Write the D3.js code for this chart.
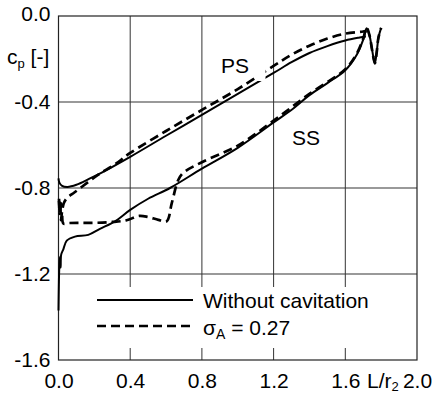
<!DOCTYPE html>
<html><head><meta charset="utf-8">
<script src="https://cdn.jsdelivr.net/npm/d3@7"></script>
<style>body{margin:0;background:#fff}svg{display:block}text{font-family:"Liberation Sans",Arial,sans-serif;fill:#000}</style>
</head><body>
<script>
const xTicks=[0.0,0.4,0.8,1.2,1.6,2.0];
const xTickLabels=["0.0","0.4","0.8","1.2","1.6","2.0"];
const yTicks=[0.0,-0.4,-0.8,-1.2,-1.6];
const yTickLabels=["0.0","-0.4","-0.8","-1.2","-1.6"];
const seriesNames=["Without cavitation","σA = 0.27"];
// Without cavitation - pressure side
const psSolid=[[0,-0.755],[0.005,-0.775],[0.02,-0.79],[0.05,-0.795],[0.1,-0.785],[0.17,-0.758],[0.26,-0.72],[0.4,-0.655],[0.6,-0.557],[0.8,-0.46],[1.0,-0.362],[1.2,-0.265],[1.3,-0.215],[1.4,-0.172],[1.5,-0.14],[1.6,-0.114],[1.68,-0.1],[1.715,-0.095]];
// Without cavitation - suction side
const ssSolid=[[0,-1.37],[0.002,-1.25],[0.004,-1.18],[0.008,-1.12],[0.012,-1.17],[0.015,-1.11],[0.027,-1.085],[0.046,-1.045],[0.092,-1.026],[0.166,-1.018],[0.231,-0.99],[0.315,-0.955],[0.4,-0.902],[0.5,-0.85],[0.622,-0.8],[0.8,-0.71],[1.0,-0.613],[1.2,-0.495],[1.31,-0.43],[1.4,-0.368],[1.5,-0.312],[1.6,-0.252],[1.664,-0.18],[1.70,-0.11],[1.719,-0.057],[1.735,-0.09],[1.75,-0.16],[1.765,-0.22],[1.775,-0.17],[1.785,-0.1],[1.80,-0.055]];
// sigma_A = 0.27 - pressure side
const psDash=[[0.003,-0.86],[0.008,-0.91],[0.013,-0.87],[0.02,-0.9],[0.03,-0.87],[0.046,-0.848],[0.09,-0.82],[0.166,-0.772],[0.222,-0.738],[0.315,-0.69],[0.4,-0.637],[0.6,-0.535],[0.8,-0.437],[1.0,-0.34],[1.2,-0.232],[1.3,-0.18],[1.4,-0.138],[1.5,-0.105],[1.6,-0.082],[1.7,-0.072],[1.72,-0.07]];
// sigma_A = 0.27 - suction side
const ssDash=[[0.003,-0.85],[0.006,-0.92],[0.01,-0.87],[0.014,-0.95],[0.02,-0.91],[0.027,-0.965],[0.055,-0.963],[0.11,-0.962],[0.2,-0.962],[0.3,-0.958],[0.38,-0.95],[0.45,-0.93],[0.5,-0.935],[0.557,-0.948],[0.603,-0.955],[0.632,-0.87],[0.668,-0.763],[0.695,-0.73],[0.8,-0.68],[1.0,-0.603],[1.2,-0.487],[1.4,-0.362],[1.6,-0.247],[1.664,-0.175],[1.70,-0.105],[1.719,-0.055],[1.735,-0.09],[1.75,-0.16],[1.765,-0.22],[1.775,-0.17],[1.785,-0.1],[1.80,-0.055]];

const W=435,H=394;
const m={l:58.5,r:417,t:16,b:360};
const svg=d3.select("body").append("svg").attr("width",W).attr("height",H);
const x=d3.scaleLinear().domain([0,2]).range([m.l,m.r]);
const y=d3.scaleLinear().domain([-1.6,0]).range([m.b,m.t]);
const fs=21;

// grid
svg.append("g").selectAll("line").data(yTicks.slice(1,4)).join("line")
 .attr("x1",m.l).attr("x2",m.r).attr("y1",d=>y(d)).attr("y2",d=>y(d))
 .attr("stroke","#777").attr("stroke-width",1.3);
svg.append("g").selectAll("line").data(xTicks.slice(1,5)).join("line")
 .attr("x1",d=>x(d)).attr("x2",d=>x(d)).attr("y1",m.t).attr("y2",m.b)
 .attr("stroke","#333").attr("stroke-width",1);
// legend background
svg.append("rect").attr("x",85).attr("y",287).attr("width",305).attr("height",61).attr("fill","#fff");
// frame
svg.append("rect").attr("x",m.l).attr("y",m.t).attr("width",m.r-m.l).attr("height",m.b-m.t)
 .attr("fill","none").attr("stroke","#222").attr("stroke-width",1.2);

// axes labels via d3 axes (hide domain & ticks)
const xAxis=d3.axisBottom(x).tickValues(xTicks).tickFormat((d,i)=>xTickLabels[i]).tickSize(0).tickPadding(13);
const gx=svg.append("g").attr("transform",`translate(0,${m.b})`).call(xAxis);
gx.select(".domain").remove();
gx.selectAll("text").attr("font-size",fs).attr("font-family","Liberation Sans, Arial, sans-serif").attr("fill","#000");
const yAxis=d3.axisLeft(y).tickValues(yTicks).tickFormat((d,i)=>yTickLabels[i]).tickSize(0).tickPadding(8);
const gy=svg.append("g").attr("transform",`translate(${m.l},0)`).call(yAxis);
gy.select(".domain").remove();
gy.selectAll("text").attr("font-size",fs).attr("font-family","Liberation Sans, Arial, sans-serif").attr("fill","#000").attr("dy",(d,i)=>i===0?"0.2em":"0.3em");

// L/r2 label
const lr=svg.append("text").attr("x",367).attr("y",388).attr("font-size",fs);
lr.append("tspan").text("L/r");
lr.append("tspan").attr("font-size",13).attr("dy",3).text("2");
// cp label
const cp=svg.append("text").attr("x",7).attr("y",64).attr("font-size",fs);
cp.append("tspan").text("c");
cp.append("tspan").attr("font-size",13).attr("dy",4).text("p");
cp.append("tspan").attr("dy",-4).text(" [-]");

// curves
const line=d3.line().x(d=>x(d[0])).y(d=>y(d[1])).curve(d3.curveCatmullRom.alpha(0.5));
const solidStyle=g=>g.attr("fill","none").attr("stroke","#000").attr("stroke-width",2).attr("stroke-linejoin","round");
const dashStyle=g=>g.attr("fill","none").attr("stroke","#000").attr("stroke-width",2.7).attr("stroke-dasharray","9,5");
svg.append("path").attr("d",line(psSolid)).call(solidStyle);
svg.append("path").attr("d",line(ssSolid)).call(solidStyle);
svg.append("path").attr("d",line(psDash)).call(dashStyle);
svg.append("path").attr("d",line(ssDash)).call(dashStyle);
// small gap in PS curves (label mask)
svg.append("rect").attr("x",257).attr("y",62).attr("width",8.5).attr("height",19).attr("fill","#fff");

svg.append("text").attr("x",221).attr("y",73).attr("font-size",fs).text("PS");
svg.append("text").attr("x",292).attr("y",145).attr("font-size",fs).text("SS");

// legend
svg.append("line").attr("x1",97).attr("x2",193).attr("y1",300).attr("y2",300).call(solidStyle);
svg.append("line").attr("x1",97).attr("x2",193).attr("y1",326).attr("y2",326).call(dashStyle);
svg.append("text").attr("x",203).attr("y",308).attr("font-size",fs).text(seriesNames[0]);
const sg=svg.append("text").attr("x",203).attr("y",335).attr("font-size",fs);
sg.append("tspan").text("σ");
sg.append("tspan").attr("font-size",14).attr("dy",4).text("A");
sg.append("tspan").attr("dy",-4).text(" = 0.27");
</script>
</body></html>
